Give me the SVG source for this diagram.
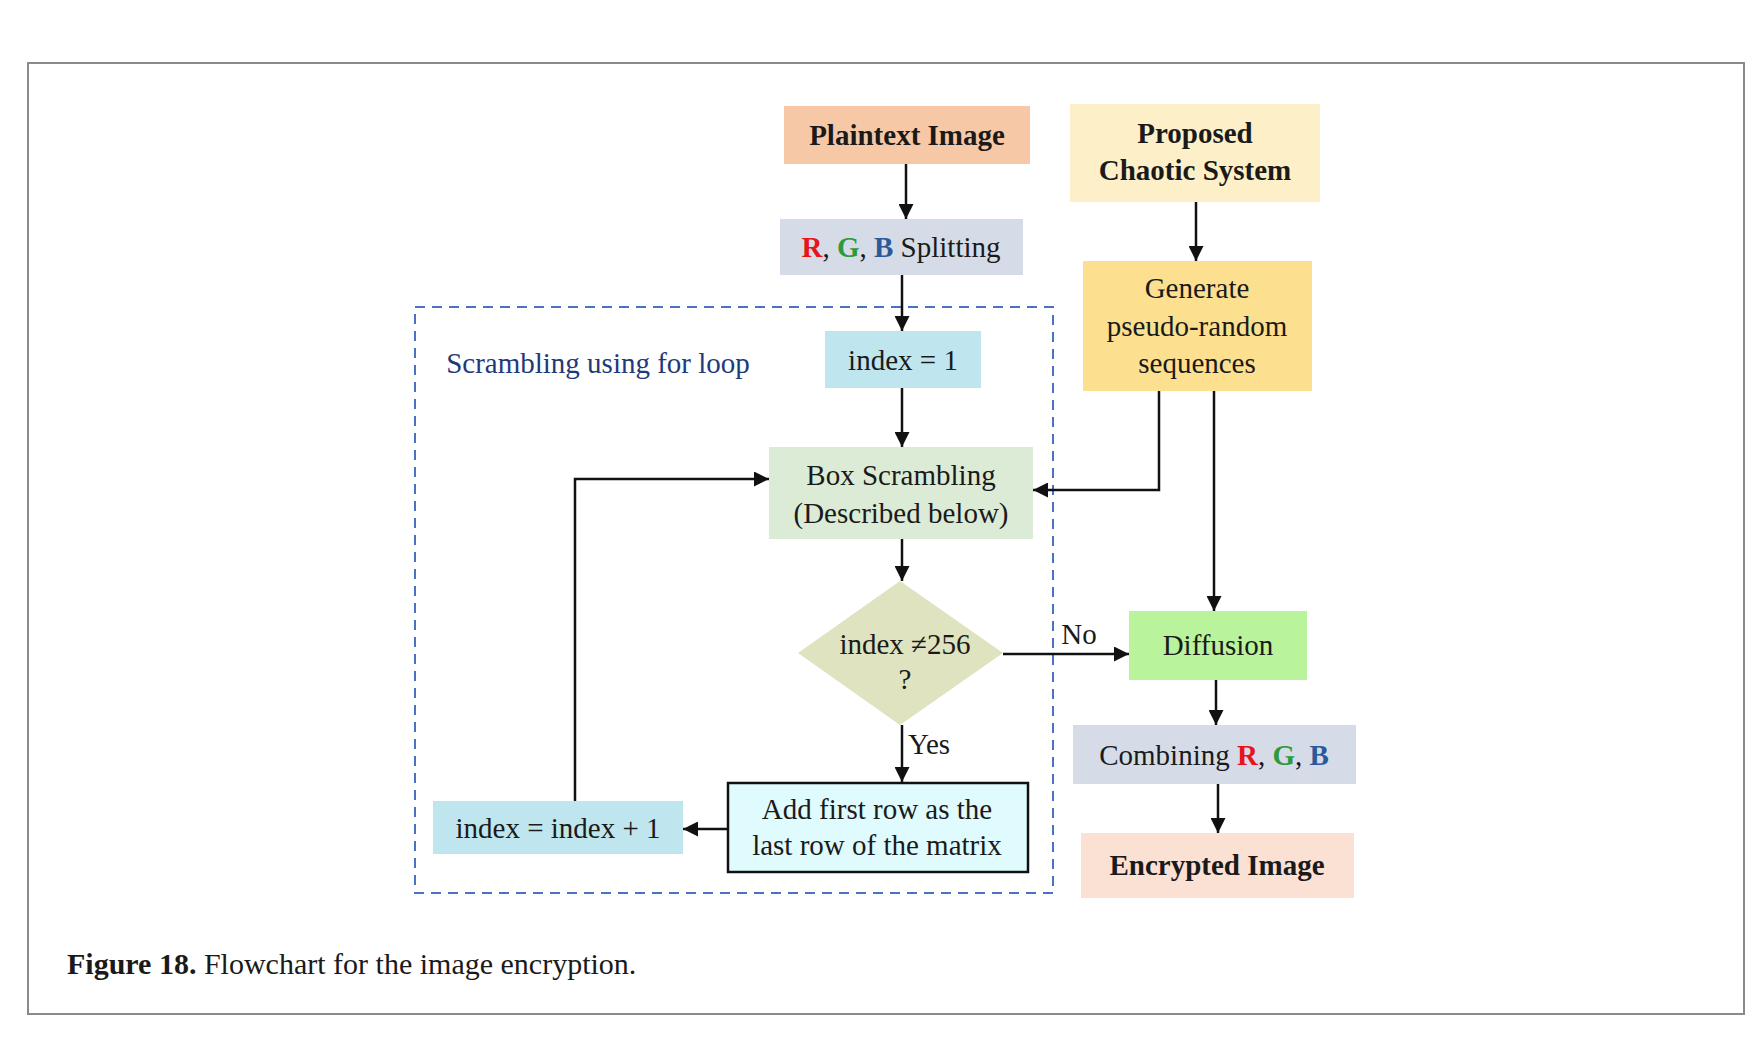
<svg xmlns="http://www.w3.org/2000/svg" width="1762" height="1054" viewBox="0 0 1762 1054">
<defs>
<marker id="ah" viewBox="0 0 10 10" refX="10" refY="5" markerWidth="6" markerHeight="6" markerUnits="strokeWidth" orient="auto">
<path d="M0,0 L10,5 L0,10 z" fill="#111"/>
</marker>
<style>
text{font-family:"Liberation Serif","Times New Roman",serif;font-size:29px;fill:#1a1a1a;text-anchor:middle}
.b{font-weight:bold}
.c{stroke:#111;stroke-width:2.5;fill:none;marker-end:url(#ah)}
.l{stroke:#111;stroke-width:2.5;fill:none}
.R{fill:#e8141c;font-weight:bold}
.G{fill:#2e9a3c;font-weight:bold}
.B{fill:#2a5a9a;font-weight:bold}
</style>
</defs>
<rect x="0" y="0" width="1762" height="1054" fill="#fff"/>
<rect x="28" y="63" width="1716" height="951" fill="none" stroke="#8a8a8a" stroke-width="2"/>
<rect id="loop-frame" x="415" y="307" width="638" height="586" fill="none" stroke="#4a72c4" stroke-width="2" stroke-dasharray="10,7"/>
<text x="598" y="373" style="fill:#1f3a7a">Scrambling using for loop</text>

<g id="plaintext"><rect x="784" y="106" width="246" height="58" fill="#f7c8a6"/><text class="b" x="907" y="145">Plaintext Image</text></g>
<g id="chaotic"><rect x="1070" y="104" width="250" height="98" fill="#fdf0c8"/><text class="b" x="1195" y="143">Proposed</text><text class="b" x="1195" y="180">Chaotic System</text></g>
<g id="splitting"><rect x="780" y="219" width="243" height="56" fill="#d6dce7"/><text x="901" y="257"><tspan class="R">R</tspan>, <tspan class="G">G</tspan>, <tspan class="B">B</tspan> Splitting</text></g>
<g id="generate"><rect x="1083" y="261" width="229" height="130" fill="#fde08f"/><text x="1197" y="298">Generate</text><text x="1197" y="336">pseudo-random</text><text x="1197" y="373">sequences</text></g>
<g id="index1"><rect x="825" y="331" width="156" height="57" fill="#bfe6ee"/><text x="903" y="370">index = 1</text></g>
<g id="box"><rect x="769" y="447" width="264" height="92" fill="#dcebd6"/><text x="901" y="485">Box Scrambling</text><text x="901" y="523">(Described below)</text></g>
<g id="decision"><polygon points="900,581 1003,653 900,725 798,653" fill="#dfe3bf"/><text x="905" y="654">index ≠256</text><text x="905" y="689">?</text></g>
<g id="diffusion"><rect x="1129" y="611" width="178" height="69" fill="#b9f39b"/><text x="1218" y="655">Diffusion</text></g>
<g id="combining"><rect x="1073" y="725" width="283" height="59" fill="#d6dce7"/><text x="1214" y="765">Combining <tspan class="R">R</tspan>, <tspan class="G">G</tspan>, <tspan class="B">B</tspan></text></g>
<g id="encrypted"><rect x="1081" y="833" width="273" height="65" fill="#fbe1d3"/><text class="b" x="1217" y="875">Encrypted Image</text></g>
<g id="addrow"><rect x="728" y="783" width="300" height="89" fill="#e0fbfd" stroke="#111" stroke-width="2.5"/><text x="877" y="819">Add first row as the</text><text x="877" y="855">last row of the matrix</text></g>
<g id="increment"><rect x="433" y="801" width="250" height="53" fill="#bfe6ee"/><text x="558" y="838">index = index + 1</text></g>

<g id="connectors">
<line class="c" x1="906" y1="164" x2="906" y2="219"/>
<line class="c" x1="902" y1="275" x2="902" y2="331"/>
<line class="c" x1="902" y1="388" x2="902" y2="447"/>
<line class="c" x1="902" y1="539" x2="902" y2="581"/>
<line class="c" x1="902" y1="725" x2="902" y2="782"/>
<line class="c" x1="727" y1="829" x2="683" y2="829"/>
<path class="c" d="M575 801 V479 H769"/>
<line class="c" x1="1196" y1="202" x2="1196" y2="261"/>
<path class="c" d="M1159 391 V490 H1033"/>
<line class="c" x1="1214" y1="391" x2="1214" y2="611"/>
<line class="c" x1="1003" y1="654" x2="1129" y2="654"/>
<line class="c" x1="1216" y1="680" x2="1216" y2="725"/>
<line class="c" x1="1218" y1="784" x2="1218" y2="833"/>
<text x="1079" y="644">No</text>
<text x="929" y="754">Yes</text>
</g>

<text x="67" y="974" style="text-anchor:start;font-size:30px"><tspan class="b">Figure 18.</tspan> Flowchart for the image encryption.</text>
</svg>
